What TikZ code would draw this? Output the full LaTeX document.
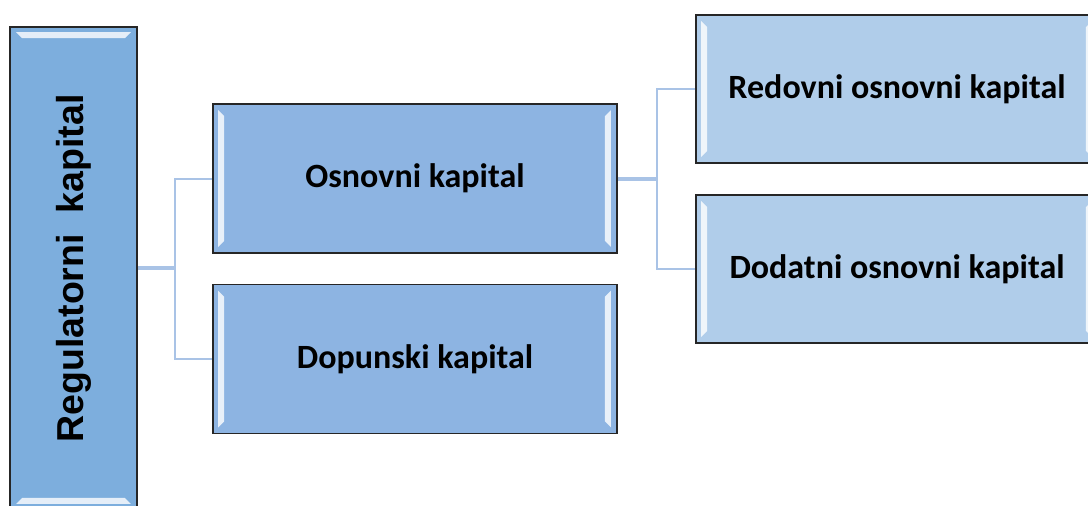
\documentclass[tikz,border=0pt]{standalone}
\usepackage{fontspec}
\setmainfont{Carlito}
\newfontfamily\regfont{Liberation Sans}
\usetikzlibrary{calc}
\definecolor{leftfill}{HTML}{7DAEDD}
\definecolor{midfill}{HTML}{8DB4E2}
\definecolor{rightfill}{HTML}{B0CDEA}
\definecolor{connc}{HTML}{A9C3E6}
\tikzset{
  boxbase/.style={draw=black!85, line width=1.6pt, inner sep=0pt, font=\fontsize{34}{40}\selectfont\bfseries},
  midbox/.style={boxbase, fill=midfill, minimum width=404pt, minimum height=149pt},
  rightbox/.style={boxbase, fill=rightfill, minimum width=402pt, minimum height=148pt},
  leftbox/.style={boxbase, fill=leftfill, minimum width=127pt, minimum height=482pt},
  conn/.style={draw=connc, line width=2pt},
  connthick/.style={draw=connc, line width=4pt},
  hl/.style={fill=white, opacity=0.8}
}
\begin{document}
\begin{tikzpicture}[x=1pt,y=-1pt]
\useasboundingbox (0,0) rectangle (1088,506);
\clip (0,0) rectangle (1088,506);
% nodes
\node[leftbox] (L) at (73.5,268) {};
\node[rotate=90, font=\regfont\fontsize{37.5}{42}\selectfont\bfseries] (Lt) at (74,268.5) {Regulatorni\ \ kapital};
\node[midbox] (O) at (415,178.5) {Osnovni kapital};
\node[midbox] (D) at (415,359) {Dopunski kapital};
\node[rightbox] (R) at (897,89) {Redovni osnovni kapital};
\node[rightbox] (Dd) at (897,269) {Dodatni osnovni kapital};
% highlights (bevel)
\fill[hl] ($(L.north west)+(7,6)$) -- ($(L.north east)+(-7,6)$) -- ($(L.north east)+(-13,12)$) -- ($(L.north west)+(13,12)$) -- cycle;
\fill[hl] ($(L.south west)+(7,-6)$) -- ($(L.south east)+(-7,-6)$) -- ($(L.south east)+(-13,-12)$) -- ($(L.south west)+(13,-12)$) -- cycle;
\foreach \b in {O,D,R,Dd}{
  \fill[hl] ($(\b.north west)+(6,7)$) -- ($(\b.south west)+(6,-7)$) -- ($(\b.south west)+(12,-13)$) -- ($(\b.north west)+(12,13)$) -- cycle;
  \fill[hl] ($(\b.north east)+(-7,7)$) -- ($(\b.south east)+(-7,-7)$) -- ($(\b.south east)+(-13,-13)$) -- ($(\b.north east)+(-13,13)$) -- cycle;
}
% connectors
\coordinate (j1) at (175,268);
\coordinate (j2) at (657,178.5);
\draw[connthick] (L.east) -- (j1);
\draw[conn] (O.west) -| (j1) |- (D.west);
\draw[connthick] (O.east) -- (j2);
\draw[conn] (R.west) -| (j2) |- (Dd.west);
\end{tikzpicture}
\end{document}
